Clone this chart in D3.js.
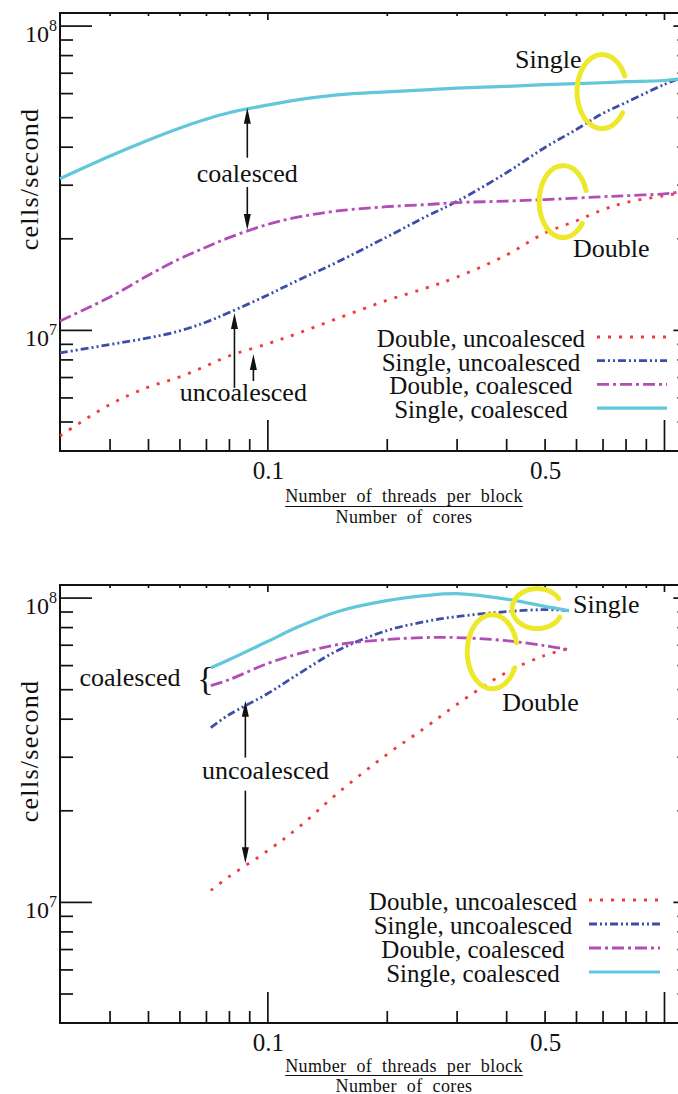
<!DOCTYPE html>
<html><head><meta charset="utf-8">
<script src="https://cdn.jsdelivr.net/npm/d3@7"></script>
<style>
body{margin:0;background:#fff}
svg{display:block}
svg text{font-family:'Liberation Serif','DejaVu Serif',serif !important;fill:#111}
</style>
</head><body>
<svg id="c" width="678" height="1094" font-family="Liberation Serif, DejaVu Serif, serif"></svg>
<script>
// ---------- data ----------
const seriesNames = ["Double, uncoalesced", "Single, uncoalesced", "Double, coalesced", "Single, coalesced"];

const xTop = [0.03, 0.04, 0.05, 0.06, 0.07, 0.08, 0.1, 0.12, 0.15, 0.2, 0.25, 0.3, 0.4, 0.5, 0.6, 0.7, 0.8, 1.0, 1.1];
const topDoubleUncoal = [4.48e6, 5.68e6, 6.48e6, 7.0e6, 7.61e6, 8.21e6, 9.0e6, 9.77e6, 1.09e7, 1.25e7, 1.37e7, 1.49e7, 1.76e7, 2.08e7, 2.28e7, 2.48e7, 2.62e7, 2.76e7, 2.82e7];
const topSingleUncoal = [8.40e6, 8.95e6, 9.41e6, 9.92e6, 1.06e7, 1.14e7, 1.30e7, 1.46e7, 1.67e7, 2.02e7, 2.35e7, 2.64e7, 3.28e7, 3.97e7, 4.55e7, 5.14e7, 5.58e7, 6.40e7, 6.72e7];
const topDoubleCoal = [1.07e7, 1.28e7, 1.51e7, 1.71e7, 1.87e7, 2.01e7, 2.22e7, 2.35e7, 2.46e7, 2.54e7, 2.58e7, 2.62e7, 2.65e7, 2.68e7, 2.71e7, 2.74e7, 2.76e7, 2.80e7, 2.84e7];
const topSingleCoal = [3.14e7, 3.72e7, 4.20e7, 4.60e7, 4.92e7, 5.17e7, 5.48e7, 5.71e7, 5.92e7, 6.06e7, 6.15e7, 6.23e7, 6.31e7, 6.40e7, 6.45e7, 6.49e7, 6.54e7, 6.60e7, 6.68e7];

const xBottom = [0.072, 0.08, 0.1, 0.12, 0.15, 0.2, 0.25, 0.3, 0.4, 0.5, 0.575];
const botDoubleUncoal = [1.09e7, 1.21e7, 1.47e7, 1.76e7, 2.27e7, 3.05e7, 3.74e7, 4.45e7, 5.67e7, 6.45e7, 6.80e7];
const botSingleUncoal = [3.74e7, 4.12e7, 4.83e7, 5.62e7, 6.69e7, 7.79e7, 8.34e7, 8.66e7, 8.99e7, 9.13e7, 9.06e7];
const botDoubleCoal = [5.14e7, 5.37e7, 6.07e7, 6.54e7, 7.0e7, 7.28e7, 7.39e7, 7.39e7, 7.22e7, 6.95e7, 6.74e7];
const botSingleCoal = [5.88e7, 6.25e7, 7.17e7, 8.03e7, 8.99e7, 9.77e7, 1.015e8, 1.03e8, 9.88e7, 9.36e7, 9.06e7];

const xDomain = [0.03, 1.1];
const yDomain = [4e6, 1.1e8];
const xMinorTicks = [0.04, 0.05, 0.06, 0.07, 0.08, 0.09, 0.2, 0.3, 0.4, 0.5, 0.6, 0.7, 0.8, 0.9];
const xMajorTicks = [0.1, 1];
const xTickLabels = [0.1, 0.5];
const yMinorTicks = [5e6, 6e6, 7e6, 8e6, 9e6, 2e7, 3e7, 4e7, 5e7, 6e7, 7e7, 8e7, 9e7];
const yMajorTicks = [1e7, 1e8];

// annotations in data coordinates
const topTexts = [
  {t: "coalesced", x: 0.089, y: 3.07e7, a: "middle"},
  {t: "uncoalesced", x: 0.087, y: 5.84e6, a: "middle"},
  {t: "Single", x: 0.421, y: 7.28e7, a: "start"},
  {t: "Double", x: 0.59, y: 1.74e7, a: "start"}
];
const topArrows = [
  {x: 0.089, y0: 3.68e7, y1: 5.37e7},
  {x: 0.089, y0: 2.95e7, y1: 2.13e7},
  {x: 0.0826, y0: 6.45e6, y1: 1.137e7},
  {x: 0.0922, y0: 6.79e6, y1: 8.34e6}
];
const topRings = [
  {x: 0.698, y: 6.07e7, a0: -25, a1: 35},
  {x: 0.557, y: 2.64e7, a0: -18, a1: 36}
];
const botTexts = [
  {t: "coalesced", x: 0.0604, y: 5.14e7, a: "end"},
  {t: "{", x: 0.0698, y: 4.98e7, a: "middle", big: true},
  {t: "uncoalesced", x: 0.0989, y: 2.54e7, a: "middle"},
  {t: "Single", x: 0.59, y: 8.93e7, a: "start"},
  {t: "Double", x: 0.391, y: 4.25e7, a: "start"}
];
const botArrows = [
  {x: 0.088, y0: 2.98e7, y1: 4.58e7},
  {x: 0.088, y0: 2.32e7, y1: 1.34e7}
];
const botRings = [
  {x: 0.479, y: 9.2e7, a0: -30, a1: 25},
  {x: 0.369, y: 6.64e7, a0: -14, a1: 26}
];

// ---------- styles ----------
const FONT = "Liberation Serif, DejaVu Serif, serif";
const colors = ["#f23a3a", "#3b4fa8", "#b24db4", "#63c7db"];
const dashes = ["3,8", "8,3,2,3,2,3", "12,4,3,4", null];
const ringSizes = [[25, 37], [24, 36]];
const ringSizesB = [[25, 20], [25, 37]];

const svg = d3.select("#c");

function drawPanel(cfg) {
  const g = svg.append("g");
  const x = d3.scaleLog().domain(xDomain).range([60, 680.4]);
  const y = d3.scaleLog().domain(yDomain).range([cfg.bottom, cfg.top]);
  const txt = () => g.append("text").attr("font-family", FONT).attr("fill", "#111");

  function tickAxis(axis, tr) {
    const a = g.append("g").attr("transform", tr).call(axis);
    a.select(".domain").remove();
    a.selectAll("line").attr("stroke", "#111").attr("stroke-width", 1.7);
    a.selectAll("text").remove();
  }
  tickAxis(d3.axisBottom(x).tickValues(xMinorTicks).tickSize(-12), `translate(0,${cfg.bottom})`);
  tickAxis(d3.axisBottom(x).tickValues(xMajorTicks).tickSize(-31), `translate(0,${cfg.bottom})`);
  tickAxis(d3.axisTop(x).tickValues(xMinorTicks).tickSize(-3), `translate(0,${cfg.top})`);
  tickAxis(d3.axisTop(x).tickValues(xMajorTicks).tickSize(-7), `translate(0,${cfg.top})`);
  tickAxis(d3.axisLeft(y).tickValues(yMinorTicks).tickSize(-13), `translate(60,0)`);
  tickAxis(d3.axisLeft(y).tickValues(yMajorTicks).tickSize(-32), `translate(60,0)`);
  tickAxis(d3.axisRight(y).tickValues(yMinorTicks).tickSize(-3), `translate(680.4,0)`);
  tickAxis(d3.axisRight(y).tickValues(yMajorTicks).tickSize(-7), `translate(680.4,0)`);

  g.append("rect").attr("x", 60).attr("y", cfg.top).attr("width", 620.4).attr("height", cfg.bottom - cfg.top)
    .attr("fill", "none").attr("stroke", "#111").attr("stroke-width", 2);

  // tick labels
  yMajorTicks.forEach(v => {
    const t = txt().attr("x", 57).attr("y", y(v) + 16).attr("text-anchor", "end").attr("font-size", 24);
    t.append("tspan").text("10");
    t.append("tspan").attr("dy", -11).attr("font-size", 16).text(String(Math.round(Math.log10(v))));
  });
  xTickLabels.forEach(v => {
    txt().attr("x", x(v) + 1).attr("y", cfg.bottom + 28).attr("text-anchor", "middle")
      .attr("font-size", 25).text(String(v));
  });

  // axis titles
  txt().attr("transform", `translate(38,${cfg.top + 166}) rotate(-90)`).attr("text-anchor", "middle")
    .attr("font-size", 26).attr("letter-spacing", 1.3).text("cells/second");
  const num = txt().attr("x", 404).attr("y", cfg.bottom + cfg.xl[0]).attr("text-anchor", "middle")
    .attr("font-size", 18).attr("word-spacing", 5).attr("letter-spacing", 0.4).text("Number of threads per block");
  const w = num.node().getComputedTextLength();
  g.append("line").attr("x1", 404 - w / 2).attr("x2", 404 + w / 2)
    .attr("y1", cfg.bottom + cfg.xl[1]).attr("y2", cfg.bottom + cfg.xl[1]).attr("stroke", "#111").attr("stroke-width", 1.1);
  txt().attr("x", 404).attr("y", cfg.bottom + cfg.xl[2]).attr("text-anchor", "middle")
    .attr("font-size", 18).attr("word-spacing", 5).attr("letter-spacing", 0.4).text("Number of cores");

  // series lines
  const line = d3.line().x(d => x(d[0])).y(d => y(d[1])).curve(d3.curveCatmullRom.alpha(0.5));
  cfg.series.forEach((vals, i) => {
    const pts = cfg.xs.map((xv, j) => [xv, vals[j]]);
    const p = g.append("path").attr("d", line(pts)).attr("fill", "none")
      .attr("stroke", colors[i]).attr("stroke-width", i === 3 ? 3.2 : 2.8);
    if (dashes[i]) p.attr("stroke-dasharray", dashes[i]);
  });

  // legend
  const L = cfg.legend;
  seriesNames.forEach((name, i) => {
    const ly = L.y0 + i * L.dy;
    txt().attr("x", L.cx).attr("y", ly + 10).attr("text-anchor", "middle").attr("font-size", 25).text(name);
    const p = g.append("line").attr("x1", L.x0).attr("x2", L.x1).attr("y1", ly).attr("y2", ly)
      .attr("stroke", colors[i]).attr("stroke-width", i === 3 ? 3.2 : 2.8);
    if (dashes[i]) p.attr("stroke-dasharray", dashes[i]);
  });

  // rings (yellow hand-drawn circles)
  cfg.rings.forEach((r, k) => {
    const [rx, ry] = cfg.ringSizes[k];
    const cx = x(r.x), cy = y(r.y);
    const pts = d3.range(r.a0, r.a1 - 360 - 0.5, -5).map(a => {
      const t = a * Math.PI / 180;
      return [cx + rx * Math.cos(t), cy + ry * Math.sin(t)];
    });
    g.append("path").attr("d", d3.line().curve(d3.curveCatmullRom)(pts)).attr("fill", "none")
      .attr("stroke", "#eee82c").attr("stroke-width", 5).attr("stroke-linecap", "round");
  });

  // texts
  cfg.texts.forEach(t => {
    txt().attr("x", x(t.x)).attr("y", y(t.y)).attr("text-anchor", t.a)
      .attr("font-size", t.big ? 34 : 26).text(t.t);
  });

  // arrows
  cfg.arrows.forEach(a => {
    const ax = x(a.x), y0 = y(a.y0), y1 = y(a.y1);
    const dir = y1 < y0 ? -1 : 1;
    const hl = 16, hw = 3.5;
    g.append("line").attr("x1", ax).attr("x2", ax).attr("y1", y0).attr("y2", y1 - dir * hl + dir * 2)
      .attr("stroke", "#111").attr("stroke-width", 1.6);
    g.append("path").attr("d", `M${ax},${y1} L${ax - hw},${y1 - dir * hl} L${ax + hw},${y1 - dir * hl} Z`)
      .attr("fill", "#111");
  });
}

drawPanel({
  top: 13, bottom: 451, xs: xTop,
  series: [topDoubleUncoal, topSingleUncoal, topDoubleCoal, topSingleCoal],
  legend: {cx: 481, x0: 597, x1: 667, y0: 337, dy: 23.7},
  texts: topTexts, arrows: topArrows, rings: topRings, ringSizes: ringSizes,
  xl: [51, 55.5, 72]
});
drawPanel({
  top: 585, bottom: 1023, xs: xBottom,
  series: [botDoubleUncoal, botSingleUncoal, botDoubleCoal, botSingleCoal],
  legend: {cx: 473, x0: 589, x1: 660, y0: 900, dy: 24},
  texts: botTexts, arrows: botArrows, rings: botRings, ringSizes: ringSizesB,
  xl: [49, 52.5, 68.5]
});
</script>
</body></html>
